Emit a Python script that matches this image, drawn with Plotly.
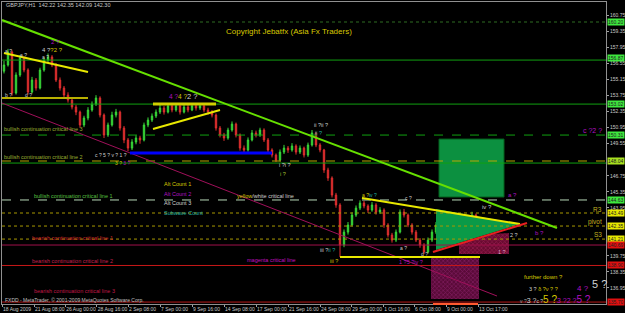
import plotly.graph_objects as go

# ---------------- data ----------------
bars = list(range(119))
opens = [155.90,156.44,157.57,153.99,155.56,157.05,156.00,154.07,155.12,154.42,
         156.00,156.87,157.14,156.44,155.12,154.42,153.81,153.37,152.76,152.32,
         151.19,151.80,152.50,153.02,153.55,152.06,150.31,151.19,152.06,152.32,
         150.92,149.88,149.17,149.70,150.05,149.88,151.19,151.62,151.97,152.32,
         152.67,152.32,152.85,152.50,152.85,152.32,152.76,152.50,152.85,152.67,
         152.85,152.50,152.32,152.06,150.92,150.31,150.05,150.75,151.27,150.31,
         149.17,149.00,149.88,150.49,150.31,150.75,149.88,149.00,148.56,148.12,
         148.82,149.17,149.00,149.35,148.82,149.17,148.56,149.44,150.49,149.44,
         149.00,147.25,146.55,145.06,144.19,140.69,141.82,142.44,143.31,143.92,
         144.36,144.10,143.75,144.19,143.57,143.75,142.44,141.56,141.12,141.82,
         143.57,143.31,142.44,141.82,141.12,140.69,140.08,141.12,141.82,142.44,
         142.87,143.05,142.70,143.31,142.87,143.05,142.70,143.05,143.31]
highs = [156.80,157.85,157.70,155.80,157.30,157.20,156.15,155.40,155.30,156.20,
         157.10,157.45,157.30,156.60,155.35,154.60,154.05,153.55,152.95,152.45,
         152.00,152.75,153.25,153.80,153.70,152.20,151.40,152.35,152.60,152.45,
         151.10,150.05,149.95,150.30,150.25,151.40,151.85,152.20,152.55,152.95,
         152.85,153.05,153.00,153.05,152.95,153.00,152.95,153.05,153.00,153.02,
         153.00,152.70,152.50,152.20,151.10,150.50,150.95,151.50,151.40,150.45,
         149.40,150.10,150.75,150.70,150.95,150.90,150.05,149.15,148.70,149.05,
         149.45,149.35,149.60,149.50,149.40,149.30,149.65,150.75,150.60,149.60,
         149.10,147.45,146.70,145.25,144.35,142.05,142.70,143.55,144.15,144.60,
         144.55,144.25,144.45,144.35,144.00,143.90,142.60,141.75,142.05,143.80,
         143.85,143.45,142.60,142.00,141.30,140.85,141.35,142.05,142.70,143.10,
         143.35,143.20,143.55,143.45,143.30,143.20,143.30,143.60,143.45]
lows = [155.70,156.30,153.75,153.85,155.40,155.80,153.85,153.95,154.20,154.30,
        155.85,156.60,156.25,154.95,154.20,153.60,153.15,152.55,152.05,150.95,
        151.00,151.60,152.35,152.85,151.85,150.05,150.15,151.05,151.85,150.70,
        149.60,148.90,149.00,149.50,149.55,149.75,151.00,151.45,151.80,152.15,
        152.10,152.20,152.30,152.35,152.10,152.20,152.30,152.40,152.45,152.50,
        152.30,152.10,151.85,150.70,150.10,149.80,149.90,150.60,150.10,148.95,
        148.80,148.85,149.75,150.10,150.15,149.70,148.80,148.35,147.95,148.00,
        148.65,148.75,148.85,148.60,148.65,148.35,148.40,149.30,149.25,148.80,
        147.00,146.30,144.85,143.95,139.64,140.50,141.60,142.30,143.15,143.75,
        143.90,143.50,143.60,143.35,143.40,142.20,141.35,140.90,140.95,141.70,
        143.10,142.25,141.60,140.95,140.45,139.90,139.95,140.95,141.65,142.25,
        142.70,142.45,142.55,142.65,142.70,142.50,142.55,142.90,142.09]
closes = [156.44,157.57,153.99,155.56,157.05,156.00,154.07,155.12,154.42,156.00,
          156.87,157.14,156.44,155.12,154.42,153.81,153.37,152.76,152.32,151.19,
          151.80,152.50,153.02,153.55,152.06,150.31,151.19,152.06,152.32,150.92,
          149.88,149.17,149.70,150.05,149.88,151.19,151.62,151.97,152.32,152.67,
          152.32,152.85,152.50,152.85,152.32,152.76,152.50,152.85,152.67,152.85,
          152.50,152.32,152.06,150.92,150.31,150.05,150.75,151.27,150.31,149.17,
          149.00,149.88,150.49,150.31,150.75,149.88,149.00,148.56,148.12,148.82,
          149.17,149.00,149.35,148.82,149.17,148.56,149.44,150.49,149.44,149.00,
          147.25,146.55,145.06,144.19,140.69,141.82,142.44,143.31,143.92,144.36,
          144.10,143.75,144.19,143.57,143.75,142.44,141.56,141.12,141.82,143.57,
          143.31,142.44,141.82,141.12,140.69,140.08,141.12,141.82,142.44,142.87,
          143.05,142.70,143.31,142.87,143.05,142.70,143.05,143.31,142.30]

tick_pos = [-0.5, 7.5, 15.3, 23.2, 31.0, 39.0, 47.0, 55.0, 63.0, 71.0, 79.0,
            86.8, 94.8, 102.5, 110.5, 118.5]
tick_text = ["18 Aug 2009", "21 Aug 08:00", "26 Aug 00:00", "28 Aug 16:00",
             "2 Sep 08:00", "7 Sep 00:00", "9 Sep 16:00", "14 Sep 08:00",
             "17 Sep 00:00", "21 Sep 16:00", "24 Sep 08:00", "29 Sep 00:00",
             "1 Oct 16:00", "6 Oct 08:00", "9 Oct 00:00", "13 Oct 17:00"]
# price ticks visible in the reference (others are hidden behind level boxes)
price_ticks = [160.75, 159.35, 157.95, 156.55, 155.15, 153.75, 152.35, 150.95,
               149.55, 146.75, 145.35, 143.95, 139.75, 138.35, 136.95]

# horizontal levels
level_prices = [160.20, 156.87, 153.02, 150.31, 148.04, 147.86, 144.63,
                143.49, 142.35, 141.21, 140.69, 138.90, 135.70]
# trendlines: (bar0, price0, bar1, price1)
trend_bar0 = [-0.5, -0.5, 0.0, -0.5, 37.25, 37.25, 89.5, 84.0, 107.25, 31.5]
trend_p0 = [160.37, 153.11, 157.49, 153.55, 153.02, 150.84, 144.80, 139.64, 140.08, 148.74]
trend_bar1 = [138.25, 123.25, 21.0, 21.0, 53.0, 54.0, 129.0, 119.0, 130.75, 67.0]
trend_p1 = [142.18, 136.23, 155.82, 153.55, 153.02, 152.50, 142.52, 139.64, 142.61, 148.74]

# zones
green_box_bars = [108.75, 125.0]
green_box_prices = [144.89, 149.96]
tri_bars = [108.0, 108.0, 129.0]
tri_prices = [143.84, 140.25, 142.52]
hatch_big_bars = [106.75, 118.75, 118.75, 106.75]
hatch_big_prices = [139.55, 139.55, 135.96, 135.96]
hatch_small_bars = [113.75, 113.75, 121.75, 126.25, 126.25]
hatch_small_prices = [139.90, 140.78, 141.65, 141.74, 139.90]

# ---------------- styles ----------------
FONT = "Liberation Sans, Arial, sans-serif"
level_styles = [
    ("#2f6d22", "dot", 1), ("#10a010", "solid", 1), ("#10a010", "solid", 1),
    ("#10a010", "dash", 1), ("#b8a800", "dash", 1), ("#10a010", "solid", 1),
    ("#b8d8b8", "dash", 1), ("#a89800", "dot", 1), ("#a89800", "dot", 1),
    ("#a89800", "dot", 1), ("#a0104a", "solid", 1), ("#c81818", "solid", 1),
    ("#b81818", "solid", 1)]
level_boxes = ["#3ee83e", "#3ee83e", "#3ee83e", "#3ee83e", "#a8e020", None,
               "#3ee83e", "#e8e800", "#e8e800", "#e8e800", "#e01010",
               "#e01010", "#e01010"]
box_shift = [0, 2, 0, 0, 0, 0, 0, 0, 0, 0, 0, 0, 0]
trend_styles = [("#66e000", 2), ("#a0105a", 1), ("#e8e800", 2), ("#b8b000", 2),
                ("#d0d000", 3), ("#e8e800", 2), ("#e8e800", 2), ("#e8e800", 2),
                ("#e82020", 2), ("#0000ff", 3)]

fig = go.Figure()

fig.add_trace(go.Scatter(x=tri_bars + [tri_bars[0]], y=tri_prices + [tri_prices[0]],
                         fill="toself", fillcolor="#0a9a48", mode="lines",
                         line=dict(width=0), hoverinfo="skip", showlegend=False))
fig.add_trace(go.Scatter(x=hatch_big_bars + [hatch_big_bars[0]],
                         y=hatch_big_prices + [hatch_big_prices[0]],
                         fill="toself", fillcolor="#5a0a38", mode="lines",
                         fillpattern=dict(shape="x", fgcolor="#b03090", bgcolor="#5a0a38",
                                          size=3, solidity=0.35),
                         line=dict(width=0), hoverinfo="skip", showlegend=False))
fig.add_trace(go.Scatter(x=hatch_small_bars + [hatch_small_bars[0]],
                         y=hatch_small_prices + [hatch_small_prices[0]],
                         fill="toself", fillcolor="#6a0a30", mode="lines",
                         fillpattern=dict(shape="x", fgcolor="#c03070", bgcolor="#6a0a30",
                                          size=3, solidity=0.35),
                         line=dict(width=0), hoverinfo="skip", showlegend=False))

fig.add_trace(go.Candlestick(
    x=bars, open=opens, high=highs, low=lows, close=closes,
    increasing=dict(line=dict(color="#3ad83a", width=1), fillcolor="#22b822"),
    decreasing=dict(line=dict(color="#e03030", width=1), fillcolor="#c81e1e"),
    whiskerwidth=0, showlegend=False, hoverinfo="skip"))

shapes = []
shapes.append(dict(type="rect", xref="x", yref="y", layer="below",
                   x0=green_box_bars[0], x1=green_box_bars[1],
                   y0=green_box_prices[0], y1=green_box_prices[1],
                   fillcolor="#0c9040", line=dict(color="#05601c", width=1)))
for p, (c, d, w) in zip(level_prices, level_styles):
    shapes.append(dict(type="line", xref="paper", yref="y", x0=0, x1=1, y0=p, y1=p,
                       line=dict(color=c, dash=d, width=w)))
for b0, p0, b1, p1, (c, w) in zip(trend_bar0, trend_p0, trend_bar1, trend_p1, trend_styles):
    shapes.append(dict(type="line", xref="x", yref="y", x0=b0, y0=p0, x1=b1, y1=p1,
                       line=dict(color=c, width=w)))
shapes.append(dict(type="line", xref="x", yref="paper", x0=107.25, x1=118.5, y0=0, y1=0,
                   line=dict(color="#ff5a30", width=2)))

ann = []


def lab(text, bar, price, color, size=5.5, anchor="left"):
    ann.append(dict(text=text, x=bar, y=price, xref="x", yref="y", showarrow=False,
                    xanchor=anchor, yanchor="middle",
                    font=dict(color=color, size=size, family=FONT)))


def sp(text, color, size):
    return f"<span style='color:{color};font-size:{size}px'>{text}</span>"


WH = "#d0d0d0"; YE = "#d8c800"; PU = "#b010c0"; TE = "#20b0a0"
lab("GBPJPY,H1  142.22 142.35 142.09 142.30", 0, 161.69, "#c8c8c8", 5.5)
lab("Copyright Jebatfx (Asia Fx Traders)", 55, 159.41, YE, 8)
lab("bullish continuation critical line 3", -0.5, 150.84, "#9cb030", 5.5)
lab("bullish continuation critical line 2", -0.5, 148.38, "#9cb030", 5.5)
lab("bullish continuation critical line 1", 7, 144.98, "#58c040", 5.5)
lab("Alt Count 1", 39.5, 146.03, YE)
lab("Alt Count 2", 39.5, 145.15, PU)
lab("Alt Count 3", 39.5, 144.36, WH)
lab("Subwave Count", 39.5, 143.49, TE)
lab("bearish continuation critical line 1", 6.5, 141.30, "#d02828")
lab("bearish continuation critical line 2", 6.5, 139.29, "#c82050")
lab("bearish continuation critical line 3", 7, 136.70, "#c01848")
lab("<span style='color:#d8c800'>yellow</span>/white critical line", 57.75, 144.98, WH)
lab("magenta critical line", 60.25, 139.38, "#c010c0")
lab("FXDD - MetaTrader, \u00a9 2001-2009 MetaQuotes Software Corp.", -0.25, 135.92, "#c0c0c0", 5)
lab("further down ?", 129.5, 137.89, YE, 6)
lab("R3", 150, 143.84, "#c0b020", 6.5, "right")
lab("pivot", 150, 142.70, "#c0b020", 6.5, "right")
lab("S3", 150, 141.65, "#c0b020", 6.5, "right")
lab("c ?2 ?", 144.25, 150.75, PU, 7)
lab("a ?", 125.5, 145.06, PU, 6)
lab("iv ?", 119, 144.01, WH, 6)
lab("b ?", 132.25, 141.74, PU, 6)
lab("2 ?", 126, 141.56, WH, 5.5)
lab("1 ?", 123, 140.08, "#e0a0c0", 5.5)
lab(sp("3 ? ", WH, 5.5) + sp("\u03b4 ?\u03bd ? ?", YE, 5.5), 130.75, 136.88, WH, 5.5)
lab("4 ?", 142.75, 136.90, PU, 8)
lab("5 ?", 146.5, 137.25, WH, 11)
lab(sp("v ?", "#a0a0a0", 5) + sp("3 ?", WH, 7) + sp("c ?", WH, 5) + sp("5 ?", YE, 10)
    + sp("3 ?2 ?", PU, 7) + sp("5 ?", PU, 10), 128.5, 135.95, WH, 7)
lab("a ?", -0.25, 157.66, WH, 5)
lab("b ?", -0.25, 153.81, WH, 5)
lab("a ?", 3.5, 157.31, WH, 5)
lab("d ?", 4.75, 153.81, WH, 5)
lab("a ?", 9, 157.14, WH, 5)
lab(sp("4 ?", WH, 6) + sp("?2 ?", YE, 6), 9, 157.75, WH, 6)
lab("2 ?", 11.25, 158.45, PU, 6)
lab(sp("4 ?", PU, 6.5) + sp("4 ?", YE, 6.5) + sp("2 ?", WH, 7.5), 40.75, 153.70, WH, 7)
lab("c ? 5 ? v ? 1 ?", 22.25, 148.56, WH, 5)
lab(sp("3 ?", YE, 5) + " " + sp("3 ?", PU, 5), 27.25, 147.86, WH, 5)
lab("ii ?ii ?", 77, 151.19, WH, 5.5)
lab("ii ?", 77.25, 150.49, TE, 5.5)
lab("i ?i ?", 68.25, 147.69, WH, 5.5)
lab("i ?", 68.5, 146.90, "#a0c030", 5.5)
lab(sp("a ?", YE, 5) + sp("iv ?", TE, 5), 89, 145.06, WH, 5)
lab("c ?", 99.75, 144.80, WH, 5)
lab(sp("iii ?", WH, 5.5) + sp("ii ?", TE, 5.5), 78.5, 140.25, WH, 5.5)
lab("iii ?", 81, 139.29, YE, 5.5)
lab("1 ?5 ?iv ?", 98.25, 139.20, PU, 5.5)
lab("a ?", 98.5, 140.43, WH, 5)
lab("d ?", 103.75, 139.90, WH, 5)

for p, bc, ys in zip(level_prices, level_boxes, box_shift):
    if bc is None:
        continue
    ann.append(dict(text=f"{p:.2f}", x=1, y=p, xref="paper", yref="y", xanchor="left",
                    yanchor="middle", xshift=1, yshift=ys, showarrow=False, bgcolor=bc,
                    borderpad=0, height=6,
                    font=dict(color="#202020", size=5, family=FONT)))

fig.update_layout(
    width=625, height=313, margin=dict(l=2, r=19, t=2, b=9, autoexpand=False),
    paper_bgcolor="#000000", plot_bgcolor="#000000", boxgap=0.5,
    shapes=shapes, annotations=ann, showlegend=False,
    xaxis=dict(range=[-0.5, 150.5], tickvals=tick_pos, ticktext=tick_text,
               tickangle=0, automargin=False,
               ticklabelposition="outside right", ticks="outside", ticklen=2,
               tickcolor="#a0a0a0", showgrid=False, zeroline=False,
               showline=True, linecolor="#909090", mirror=True,
               rangeslider=dict(visible=False),
               tickfont=dict(color="#c8c8c8", size=5, family=FONT)),
    yaxis=dict(range=[135.53, 161.95], side="right", tickvals=price_ticks,
               automargin=False,
               tickformat=".2f", ticks="outside", ticklen=2, tickcolor="#a0a0a0",
               showgrid=False, zeroline=False, showline=True, linecolor="#909090",
               mirror=True, tickfont=dict(color="#c8c8c8", size=5, family=FONT)),
)

fig.write_html("out.html")
